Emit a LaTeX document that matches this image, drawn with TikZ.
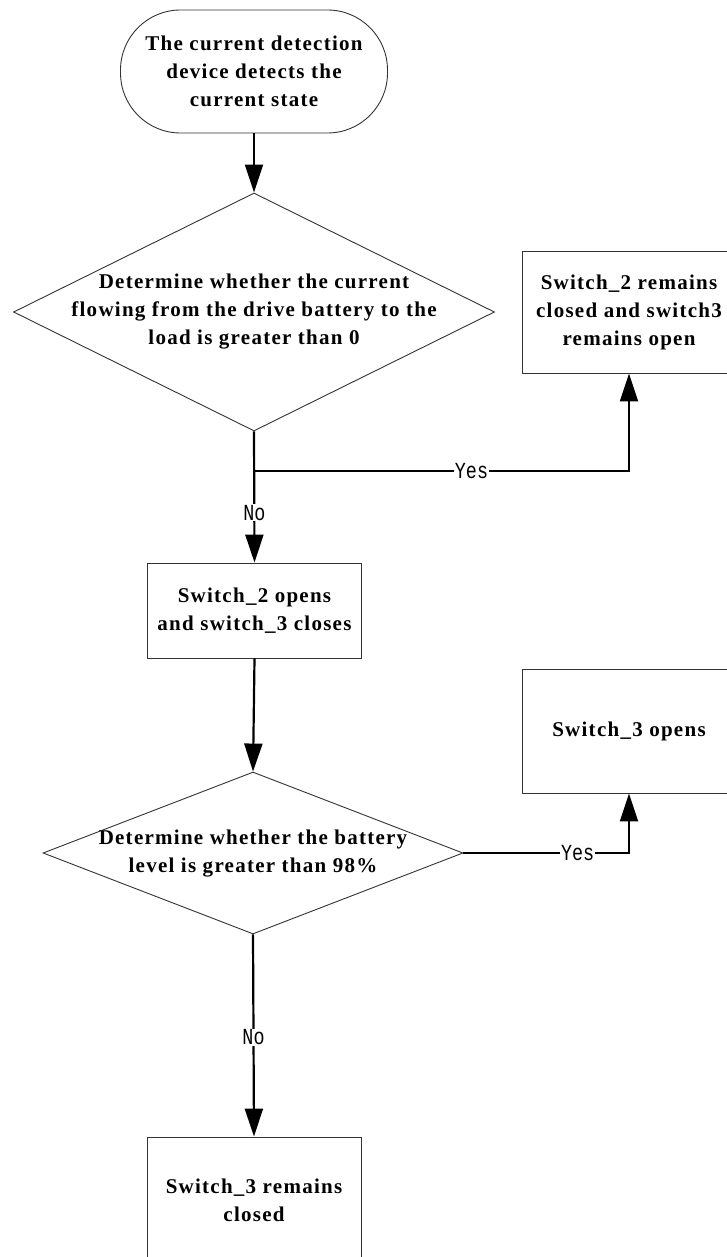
\documentclass[tikz,border=0pt]{standalone}
\usepackage{fontspec}
\setmainfont{Liberation Serif}[LetterSpace=6]
\newfontfamily\lblfont{Liberation Mono}
\newcommand{\lbltext}[1]{\scalebox{0.8}[1]{\lblfont\fontsize{23}{26}\selectfont #1}}
\usetikzlibrary{shapes.geometric,arrows.meta}
\begin{document}
\begin{tikzpicture}[x=1pt,y=-1pt,
  txt/.style={font=\fontsize{21}{28}\selectfont\bfseries, align=center, text=black},
  term/.style={draw=black!80, line width=0.9pt, rounded corners=60pt, minimum width=267pt, minimum height=123pt, txt},
  procbox/.style={draw=black!80, line width=0.9pt, minimum width=214pt, txt},
  dec/.style={draw=black!80, line width=0.9pt, shape=diamond, inner sep=0pt},
  conn/.style={line width=2.2pt, -{Triangle[length=28pt,width=18pt]}},
  lbl/.style={fill=white, inner sep=1pt, text=black}
]
\useasboundingbox (0,0) rectangle (727,1257);
\node[term] (start) at (254,71.5) {The current detection\\device detects the\\current state};
\node[dec, minimum width=481pt, minimum height=238pt] (d1) at (254,312) {};
\node[txt] (d1t) at (254,312) {Determine whether the current\\flowing from the drive battery to the\\load is greater than 0};
\node[procbox, minimum height=122pt] (b1) at (629,312) {Switch\_2 remains\\closed and switch3\\remains open};
\node[procbox, minimum height=95pt] (b2) at (254.5,610.5) {Switch\_2 opens\\and switch\_3 closes};
\node[dec, minimum width=420pt, minimum height=162pt] (d2) at (253,853) {};
\node[txt] (d2t) at (253,854) {Determine whether the battery\\level is greater than 98\%};
\node[procbox, minimum height=124pt] (b3) at (629,731) {Switch\_3 opens};
\node[procbox, minimum height=126pt] (b4) at (254,1200) {Switch\_3 remains\\closed};
\coordinate (j1) at (254,471);

\draw[conn] (start.south) -- (d1.north);
\draw[conn] (d1.south) -- node[lbl, pos=0.62] {\lbltext{No}} (b2.north);
\draw[conn] (j1) -- node[lbl, pos=0.58] {\lbltext{Yes}} (j1 -| b1.south) -- (b1.south);
\draw[conn] (b2.south) -- (d2.north);
\draw[conn] (d2.east) -- node[lbl, pos=0.69] {\lbltext{Yes}} (d2.east -| b3.south) -- (b3.south);
\draw[conn] (d2.south) -- node[lbl, pos=0.51] {\lbltext{No}} (b4.north);
\end{tikzpicture}
\end{document}
